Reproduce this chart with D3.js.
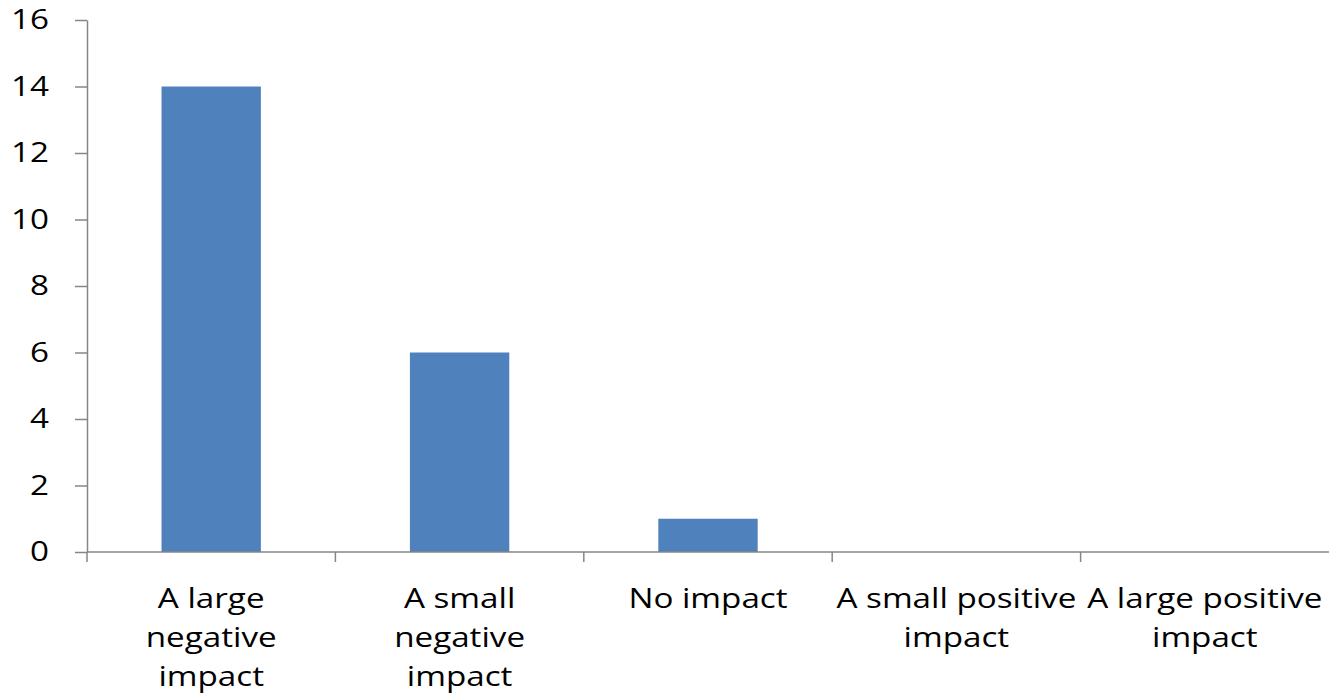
<!DOCTYPE html>
<html>
<head>
<meta charset="utf-8">
<script src="https://cdn.jsdelivr.net/npm/d3@7"></script>
<style>
  html, body { margin: 0; padding: 0; background: #fff; }
  svg { display: block; }
  text { font-family: "Open Sans", "Liberation Sans", sans-serif; fill: #000; }
</style>
</head>
<body>
<svg id="chart" width="1329" height="696"></svg>
<script>
// Survey responses: perceived impact
const categories = [
  "A large negative impact",
  "A small negative impact",
  "No impact",
  "A small positive impact",
  "A large positive impact"
];
const categoryLines = [
  ["A large", "negative", "impact"],
  ["A small", "negative", "impact"],
  ["No impact"],
  ["A small positive", "impact"],
  ["A large positive", "impact"]
];
const counts = [14, 6, 1, 0, 0];
const yTicks = [0, 2, 4, 6, 8, 10, 12, 14, 16];

const svg = d3.select("#chart");
const margin = { left: 87, right: 0, top: 20, bottom: 144 };
const W = 1329, H = 696;
const fontSize = 27;
const stretch = 1.23; // wide text rendering

const x = d3.scaleBand()
  .domain(categories)
  .range([margin.left, W - margin.right])
  .paddingInner(0)
  .paddingOuter(0);

const y = d3.scaleLinear()
  .domain([0, 16])
  .range([H - margin.bottom, margin.top]);

const axisColor = "#868686";

// Bars (gap width 150%)
const barW = x.bandwidth() / 2.5;
svg.append("g")
  .selectAll("rect")
  .data(counts)
  .join("rect")
  .attr("x", (d, i) => x(categories[i]) + (x.bandwidth() - barW) / 2)
  .attr("y", d => y(d))
  .attr("width", barW)
  .attr("height", d => y(0) - y(d))
  .attr("fill", "#4F81BD");

// Y axis
const tickLen = 12, tickPad = 26;
const yAxis = svg.append("g")
  .attr("transform", `translate(${margin.left},0)`)
  .call(d3.axisLeft(y).tickValues(yTicks).tickSize(tickLen).tickPadding(tickPad).tickSizeOuter(0));
yAxis.select(".domain").attr("stroke", axisColor).attr("stroke-width", 1.5);
yAxis.selectAll(".tick line").attr("stroke", axisColor).attr("stroke-width", 1.5);
const ax = -(tickLen + tickPad);
yAxis.selectAll(".tick text")
  .style("font-family", '"Open Sans", "Liberation Sans", sans-serif')
  .attr("font-size", fontSize)
  .attr("fill", "#000")
  .attr("transform", `translate(${ax},0) scale(${stretch},1) translate(${-ax},0)`);

// X axis line and category boundary ticks
const xAxisG = svg.append("g");
xAxisG.append("line")
  .attr("x1", margin.left).attr("x2", W - margin.right)
  .attr("y1", y(0)).attr("y2", y(0))
  .attr("stroke", axisColor).attr("stroke-width", 1.5);
const boundaries = categories.map(c => x(c));
xAxisG.selectAll("line.bt")
  .data(boundaries)
  .join("line")
  .attr("class", "bt")
  .attr("x1", d => d).attr("x2", d => d)
  .attr("y1", y(0)).attr("y2", y(0) + 10)
  .attr("stroke", axisColor).attr("stroke-width", 1.5);

// Category labels
const lab = svg.append("g");
categoryLines.forEach((lines, i) => {
  const cx = x(categories[i]) + x.bandwidth() / 2;
  const t = lab.append("g")
    .attr("transform", `translate(${cx},0) scale(${stretch},1)`)
    .append("text")
    .attr("text-anchor", "middle")
    .attr("font-size", fontSize);
  lines.forEach((ln, j) => {
    t.append("tspan")
      .attr("x", 0)
      .attr("y", 608 + j * 39)
      .text(ln);
  });
});
</script>
</body>
</html>
